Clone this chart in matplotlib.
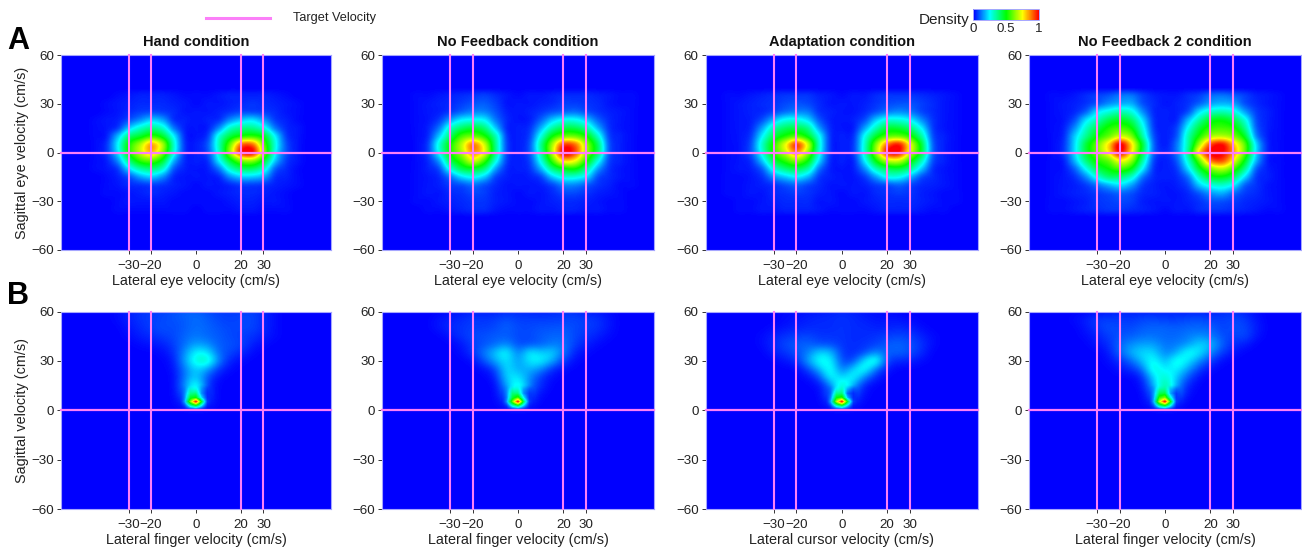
import numpy as np
import matplotlib
matplotlib.use("Agg")
import matplotlib.pyplot as plt
from matplotlib.colors import LinearSegmentedColormap

plt.rcParams['font.family'] = ['Liberation Sans', 'DejaVu Sans']

titles = ["Hand condition", "No Feedback condition", "Adaptation condition", "No Feedback 2 condition"]
xlabels_a = ["Lateral eye velocity (cm/s)"] * 4
xlabels_b = ["Lateral finger velocity (cm/s)", "Lateral finger velocity (cm/s)",
             "Lateral cursor velocity (cm/s)", "Lateral finger velocity (cm/s)"]
target_x = [-30, -20, 20, 30]
x_ticks = [-30, -20, 0, 20, 30]
y_ticks = [-60, -30, 0, 30, 60]

# Density in percent. Eye panels: columns x=-50..50 step 5, rows y=35..-35 step 5
a1 = [
[0,0,0,1,2,3,3,3,2,1,1,1,2,3,3,3,3,2,1,0,0],
[0,0,1,2,3,4,4,4,3,2,1,2,2,3,4,5,4,3,2,1,0],
[0,0,1,2,4,6,7,6,4,2,2,2,3,5,7,7,6,4,2,1,0],
[0,1,2,3,8,14,20,16,5,3,2,3,5,14,20,22,15,6,3,1,0],
[0,1,2,6,20,30,36,30,12,3,2,3,14,30,36,36,28,12,4,2,0],
[0,1,3,18,38,46,54,46,24,4,2,6,28,44,52,54,46,24,6,2,0],
[0,1,5,24,50,66,82,66,30,5,3,9,32,60,88,88,58,28,8,2,0],
[0,1,5,22,50,68,80,62,28,5,3,8,30,64,96,98,62,26,8,2,0],
[0,1,3,14,38,54,58,46,18,4,3,5,24,46,62,64,46,20,6,2,0],
[0,1,2,6,22,34,38,30,9,3,2,3,12,30,40,40,30,10,4,1,0],
[0,0,1,3,8,16,20,14,4,2,2,2,4,14,20,20,16,5,3,1,0],
[0,0,1,2,4,5,6,5,3,2,1,2,2,4,6,6,5,3,2,1,0],
[0,0,1,1,2,3,4,3,2,1,1,1,2,3,4,4,3,2,1,0,0],
[0,0,0,1,2,2,2,2,1,1,1,1,1,2,3,3,2,2,1,0,0],
[0,0,0,1,1,1,1,1,1,1,0,1,1,1,2,2,1,1,1,0,0]]
a2 = [
[0,1,1,2,3,4,5,6,4,2,1,2,2,3,4,4,4,3,2,1,1],
[0,1,2,3,4,6,8,9,6,2,2,2,3,4,6,6,5,4,2,1,1],
[0,1,2,3,6,10,13,13,8,3,2,3,5,8,10,11,8,5,3,2,1],
[0,1,2,6,16,24,26,24,12,4,2,3,10,20,26,26,20,10,4,2,1],
[0,1,3,12,30,40,44,38,20,4,3,5,18,34,42,42,34,18,5,2,1],
[0,1,4,20,40,56,60,52,32,6,3,7,28,50,60,60,50,30,7,3,1],
[0,1,6,28,50,68,86,70,36,7,3,9,36,66,92,88,64,40,9,3,1],
[0,1,6,26,50,66,84,72,36,7,3,9,34,68,100,92,64,40,9,3,1],
[0,1,4,16,42,56,70,56,28,6,3,7,28,56,78,74,52,28,7,3,1],
[0,1,3,8,28,42,46,38,16,4,3,5,18,38,48,50,36,16,5,2,1],
[0,1,2,4,12,22,26,20,7,3,2,3,7,20,28,28,22,8,4,2,1],
[0,1,2,3,6,8,11,8,4,2,2,2,3,7,13,13,9,5,3,1,1],
[0,1,2,2,4,5,7,6,3,2,1,2,2,4,7,7,5,3,2,1,0],
[0,1,1,2,3,4,5,5,3,2,1,1,2,3,4,4,3,2,1,1,0],
[0,0,1,1,2,3,4,4,2,1,1,1,2,2,3,3,2,2,1,1,0]]
a3 = [
[1,1,2,3,4,5,5,5,3,2,1,2,2,4,5,5,5,4,3,2,1],
[1,2,3,4,5,7,8,7,4,2,2,2,3,5,7,8,8,6,4,2,1],
[1,2,3,4,7,11,13,12,5,3,2,2,4,8,12,14,12,7,4,2,1],
[1,2,3,8,18,26,27,22,9,3,2,3,8,20,28,28,24,14,5,2,1],
[1,2,4,16,32,40,42,36,16,4,2,3,16,32,44,44,38,24,6,2,1],
[1,2,6,24,42,52,58,48,26,5,3,5,26,46,58,60,52,34,8,3,1],
[1,2,8,30,52,72,92,70,30,5,3,6,30,62,88,96,72,44,10,3,1],
[1,2,8,28,52,68,84,64,28,5,3,6,30,64,96,98,70,44,10,3,1],
[1,2,5,20,42,54,62,50,22,4,3,4,24,50,68,70,52,32,8,3,1],
[1,2,3,10,28,38,42,34,12,3,2,3,14,32,42,44,36,20,5,2,1],
[1,1,2,5,14,20,24,18,6,3,2,2,6,16,26,26,18,8,4,2,1],
[1,1,2,3,5,8,10,7,4,2,2,2,3,6,8,10,7,4,3,2,1],
[1,1,2,2,4,5,6,5,3,2,1,2,2,4,5,6,5,3,2,1,1],
[0,1,1,2,3,4,4,4,2,2,1,1,2,3,4,4,4,3,2,1,1],
[0,1,1,2,2,3,3,3,2,1,1,1,1,2,3,3,3,2,1,1,0]]
a4 = [
[1,1,2,4,6,8,11,11,6,3,2,2,4,6,10,11,9,6,3,2,1],
[1,2,3,5,9,14,17,17,8,4,2,3,5,10,16,18,16,8,4,2,1],
[1,2,4,10,22,28,32,28,14,4,3,3,8,22,30,32,28,16,6,3,1],
[1,2,8,22,32,42,46,40,22,5,3,4,18,34,46,48,42,28,8,3,1],
[1,3,14,30,42,52,56,50,28,6,3,7,26,44,54,56,52,36,10,3,1],
[1,4,20,36,50,60,70,62,34,8,3,9,32,52,66,68,62,46,14,3,1],
[1,5,22,44,60,78,100,78,44,10,3,12,34,66,92,98,80,58,22,4,1],
[1,5,22,44,60,76,98,76,42,10,4,12,36,78,100,100,84,58,22,4,1],
[1,3,18,38,52,60,74,64,34,7,3,9,30,60,88,92,74,48,18,3,1],
[1,2,10,26,42,50,56,48,24,5,3,6,22,46,62,68,56,36,10,3,1],
[1,2,5,14,28,38,38,30,12,4,3,4,12,32,46,48,40,22,6,3,1],
[1,2,3,6,12,18,22,16,6,3,2,3,7,20,28,30,24,10,5,2,1],
[1,2,3,4,6,8,10,8,4,3,2,2,4,9,15,17,11,6,4,2,1],
[1,1,2,3,5,6,7,6,3,2,2,2,3,5,8,8,6,4,3,2,1],
[1,1,2,3,4,5,5,4,3,2,1,2,2,4,5,5,4,3,2,1,1]]

# Hand/cursor panels: fan columns x=-40..40 step 5, rows y=60..0 step 5
b1_fan = [
[0,1,3,5,6,7,8,10,10,8,6,6,6,7,4,1,0],
[0,1,3,5,6,7,8,9,11,9,7,6,7,7,4,1,0],
[0,0,2,4,6,8,7,9,11,10,8,7,7,7,4,1,0],
[0,0,1,3,4,6,7,10,12,10,9,7,6,5,3,1,0],
[0,0,0,1,2,3,6,11,16,14,9,8,7,3,1,0,0],
[0,0,0,0,0,1,4,14,26,24,10,7,4,1,0,0,0],
[0,0,0,0,0,0,2,16,30,34,13,3,1,0,0,0,0],
[0,0,0,0,0,0,1,12,22,16,5,1,0,0,0,0,0],
[0,0,0,0,0,0,0,12,22,8,1,0,0,0,0,0,0],
[0,0,0,0,0,0,0,14,32,5,0,0,0,0,0,0,0],
[0,0,0,0,0,0,0,10,36,6,0,0,0,0,0,0,0],
[0,0,0,0,0,0,0,4,20,4,0,0,0,0,0,0,0],
[0,0,0,0,0,0,0,0,0,0,0,0,0,0,0,0,0]]
b2_fan = [
[0,0,1,2,3,3,3,4,4,4,3,4,5,5,2,2,1],
[0,2,3,4,6,5,6,8,6,6,6,6,6,7,6,5,2],
[0,2,4,5,6,6,7,10,7,7,8,8,9,7,6,5,2],
[0,0,2,5,7,8,9,9,7,7,9,10,10,7,5,3,1],
[0,0,0,2,6,8,10,14,7,7,9,12,12,6,3,1,0],
[0,0,0,1,5,12,20,28,10,26,20,22,12,3,1,0,0],
[0,0,0,0,1,8,17,24,14,24,26,18,6,1,0,0,0],
[0,0,0,0,0,1,6,24,16,18,14,4,1,0,0,0,0],
[0,0,0,0,0,0,2,22,24,14,5,1,0,0,0,0,0],
[0,0,0,0,0,0,0,16,32,12,4,0,0,0,0,0,0],
[0,0,0,0,0,0,0,10,38,8,1,0,0,0,0,0,0],
[0,0,0,0,0,0,0,4,20,4,0,0,0,0,0,0,0],
[0,0,0,0,0,0,0,0,0,0,0,0,0,0,0,0,0]]
b3_fan = [
[0,0,0,1,1,2,2,3,4,3,2,1,1,0,0,0,0],
[0,0,0,1,2,3,4,4,5,4,3,2,2,2,1,0,0],
[0,0,1,2,3,4,4,4,5,4,4,3,3,4,3,1,0],
[0,1,3,5,6,7,5,5,5,4,4,5,6,7,6,3,1],
[0,1,4,7,9,10,7,7,5,4,5,6,9,10,8,5,1],
[0,0,3,5,8,12,22,20,5,4,6,14,9,10,8,4,0],
[0,0,0,2,4,16,28,26,6,6,24,34,5,4,3,1,0],
[0,0,0,0,0,6,18,30,9,22,30,10,2,0,0,0,0],
[0,0,0,0,0,1,6,28,20,28,12,3,0,0,0,0,0],
[0,0,0,0,0,0,1,10,36,16,2,0,0,0,0,0,0],
[0,0,0,0,0,0,0,10,38,8,1,0,0,0,0,0,0],
[0,0,0,0,0,0,0,4,20,4,0,0,0,0,0,0,0],
[0,0,0,0,0,0,0,0,0,0,0,0,0,0,0,0,0]]
b4_fan = [
[0,0,1,2,3,3,3,3,3,3,3,3,3,4,5,3,1],
[1,3,6,6,6,5,7,7,6,6,7,8,6,6,7,6,2],
[0,2,5,8,7,7,9,10,10,9,10,10,10,6,8,7,3],
[0,1,3,6,8,9,11,11,10,10,12,14,12,8,6,8,2],
[0,0,2,4,10,14,16,16,11,12,14,22,19,10,4,3,0],
[0,0,0,2,10,18,22,22,12,16,28,24,14,6,2,0,0],
[0,0,0,1,4,10,20,28,16,30,24,14,6,1,0,0,0],
[0,0,0,0,2,4,10,32,22,26,16,6,1,0,0,0,0],
[0,0,0,0,0,0,3,22,32,20,8,1,0,0,0,0,0],
[0,0,0,0,0,0,1,16,40,16,3,0,0,0,0,0,0],
[0,0,0,0,0,0,0,10,44,12,1,0,0,0,0,0,0],
[0,0,0,0,0,0,0,4,22,4,0,0,0,0,0,0,0],
[0,0,0,0,0,0,0,0,0,0,0,0,0,0,0,0,0]]

# Peak near the origin: columns x=-7.5..7.5 step 2.5, rows y=15..0 step 2.5
b1_tip = [[2,10,26,24,8,1,0],[2,12,32,30,12,1,0],[1,14,36,38,14,2,0],[1,16,46,50,22,3,0],
          [1,20,62,100,46,6,0],[0,8,30,44,22,3,0],[0,0,0,0,0,0,0]]
b2_tip = [[3,12,28,24,12,4,1],[2,14,34,32,12,3,0],[1,14,38,38,14,3,0],[1,14,44,56,24,3,0],
          [0,18,58,100,42,6,0],[0,6,28,42,20,3,0],[0,0,0,0,0,0,0]]
b3_tip = [[1,6,22,30,14,2,0],[0,8,28,34,12,1,0],[0,10,36,38,10,1,0],[0,14,48,54,18,2,0],
          [0,20,66,100,46,6,0],[0,8,30,42,20,2,0],[0,0,0,0,0,0,0]]
b4_tip = [[2,12,30,34,14,3,0],[2,14,38,38,14,2,0],[1,16,42,44,16,2,0],[1,18,54,62,28,3,0],
          [0,22,68,100,48,6,0],[0,10,34,46,24,3,0],[0,0,0,0,0,0,0]]

W, H = 1302, 547
fig = plt.figure(figsize=(W / 100, H / 100), dpi=100, facecolor='white')
cmap = LinearSegmentedColormap.from_list('dens', ['#0000ff', '#00ffff', '#00ff00', '#ffff00', '#ff0000'], N=256)
PINK = '#fb7ff8'
EDGE = '#a6a6ff'
TXT = '#222222'

col_px = [(61, 331), (382, 654), (705.5, 978), (1029, 1301)]
row_px = [(55, 250), (311.5, 509)]


def make_ax(xpx, ypx):
    return fig.add_axes([xpx[0] / W, 1 - ypx[1] / H, (xpx[1] - xpx[0]) / W, (ypx[1] - ypx[0]) / H])


def draw_grid(ax, data, x0, x1, y0, y1, step, interp):
    arr = np.pad(np.array(data, dtype=float) / 100, 1)
    return ax.imshow(arr, cmap=cmap, vmin=0, vmax=1, aspect='auto',
                     extent=[x0 - 1.5 * step, x1 + 1.5 * step, y0 - 1.5 * step, y1 + 1.5 * step],
                     origin='upper', interpolation=interp, interpolation_stage='data', zorder=1)


def draw_tip(ax, data, x0, x1, y0, y1, step):
    arr = np.array(data, dtype=float) / 100
    col_weight = np.array([0, 0.7, 1, 1, 1, 0.7, 0])
    row_weight = np.array([0, 0.6, 1, 1, 1, 1, 1])
    return ax.imshow(arr, cmap=cmap, vmin=0, vmax=1, aspect='auto',
                     alpha=np.outer(row_weight, col_weight),
                     extent=[x0 - step / 2, x1 + step / 2, y0 - step / 2, y1 + step / 2],
                     origin='upper', interpolation='bilinear', interpolation_stage='data', zorder=2)


def finish(ax, xlabel, ylabel, title=None):
    ax.set_facecolor('#0000ff')
    ax.set_xlim(-60, 60)
    ax.set_ylim(-60, 60)
    for v in target_x:
        ax.axvline(v, color=PINK, lw=1.5, zorder=3, clip_on=False)
    ax.axhline(0, color=PINK, lw=1.6, zorder=3, clip_on=False)
    ax.set_xticks(x_ticks)
    ax.set_yticks(y_ticks)
    ax.tick_params(axis='both', length=3, width=0.7, color='#333333', labelsize=9.6,
                   labelcolor=TXT, pad=2)
    ax.tick_params(axis='x', pad=4)
    for s in ax.spines.values():
        s.set_color(EDGE)
        s.set_linewidth(0.8)
    ax.set_xlabel(xlabel, fontsize=10.4, color=TXT, labelpad=1.8)
    if ylabel:
        ax.set_ylabel(ylabel, fontsize=10.4, color=TXT, labelpad=2)
    if title:
        ax.set_title(title, fontsize=10.5, fontweight='bold', color='#111111', pad=6.3)


a_data = [a1, a2, a3, a4]
fan_data = [b1_fan, b2_fan, b3_fan, b4_fan]
tip_data = [b1_tip, b2_tip, b3_tip, b4_tip]
im = None
for i in range(4):
    ax = make_ax(col_px[i], row_px[0])
    im = draw_grid(ax, a_data[i], -50, 50, -35, 35, 5, 'catrom')
    finish(ax, xlabels_a[i], "Sagittal eye velocity (cm/s)" if i == 0 else None, titles[i])

    ax = make_ax(col_px[i], row_px[1])
    draw_grid(ax, fan_data[i], -40, 40, 0, 60, 5, 'bicubic')
    draw_tip(ax, tip_data[i], -7.5, 7.5, 0, 15, 2.5)
    finish(ax, xlabels_b[i], "Sagittal velocity (cm/s)" if i == 0 else None)

fig.text(7 / W, 1 - 41 / H, "A", fontsize=22, fontweight='bold', color='black', va='center', ha='left')
fig.text(7 / W, 1 - 296 / H, "B", fontsize=22, fontweight='bold', color='black', va='center', ha='left')

# legend for target velocity
fig.add_artist(plt.Line2D([206 / W, 270 / W], [1 - 18 / H, 1 - 18 / H], color=PINK, lw=2.2))
fig.text(293 / W, 1 - 18 / H, "Target Velocity", fontsize=9.2, color=TXT, va='center', ha='left')

# colour bar
cax = make_ax((973.5, 1039), (9, 20))
cb = fig.colorbar(im, cax=cax, orientation='horizontal', ticks=[0, 0.5, 1])
cb.ax.set_xticklabels(['0', '0.5', '1'])
cb.ax.tick_params(length=0, labelsize=9.6, labelcolor=TXT, pad=2.5)
cb.outline.set_edgecolor(EDGE)
cb.outline.set_linewidth(0.7)
fig.text(919 / W, 1 - 20 / H, "Density", fontsize=11, color=TXT, va='center', ha='left')

fig.savefig('out.png', dpi=100, facecolor='white')
